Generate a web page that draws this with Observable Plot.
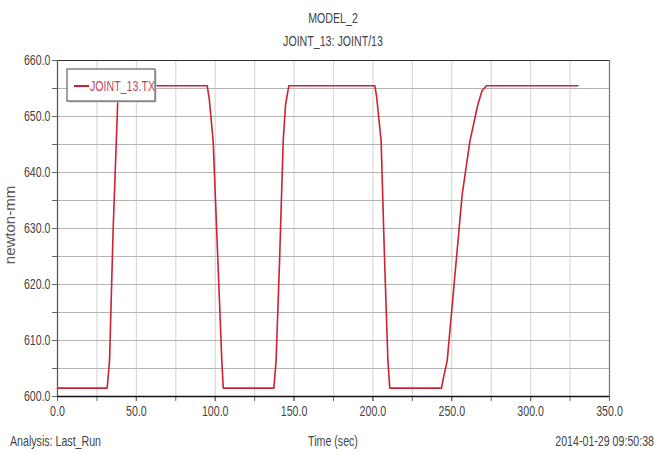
<!DOCTYPE html>
<html>
<head>
<meta charset="utf-8">
<script src="https://cdn.jsdelivr.net/npm/d3@7"></script>
<script src="https://cdn.jsdelivr.net/npm/@observablehq/plot@0.6"></script>
<style>
  html, body { margin: 0; padding: 0; background: #fff; }
  svg text { font-family: "Liberation Sans", Arial, sans-serif; }
</style>
</head>
<body>
<div id="chart"></div>
<script>
// JOINT_13.TX torque history (newton-mm) against simulation time (sec)
const timeSec = [
  0, 31.5, 33.0, 35.3, 38.2, 39.5,
  94.9, 96.2, 98.7, 101.7, 104.2, 105.1,
  137.2, 138.6, 140.8, 143.1, 144.6, 146.7,
  201.2, 202.4, 205.2, 207.4, 209.5, 210.7,
  243.5, 244.6, 247.1, 252.8, 256.6, 261.5, 266.5, 269.2, 272.0, 330.0
];
const torque = [
  601.5, 601.5, 606.4, 630.0, 652.7, 655.5,
  655.5, 653.2, 645.6, 624.2, 606.4, 601.5,
  601.5, 606.4, 624.2, 645.6, 652.1, 655.5,
  655.5, 653.4, 645.6, 624.2, 606.4, 601.5,
  601.5, 603.2, 606.4, 624.2, 636.1, 645.6, 652.1, 654.6, 655.5, 655.5
];

const xTicks = d3.range(0, 351, 50);
const xMinor = d3.range(0, 351, 25);
const yTicks = d3.range(600, 661, 10);
const yMinor = d3.range(600, 661, 5);

const titleLines = ["MODEL_2", "JOINT_13: JOINT/13"];
const seriesName = "JOINT_13.TX";
const yLabel = "newton-mm";
const xLabel = "Time (sec)";
const footLeft = "Analysis: Last_Run";
const footRight = "2014-01-29 09:50:38";

const rows = timeSec.map((t, i) => ({t, v: torque[i]}));
const fmt = d => d.toFixed(1);
const lineColor = "#cc2233";

const W = 655, H = 454;
const M = {top: 60, right: 46, bottom: 58, left: 57};

const chart = Plot.plot({
  width: W,
  height: H,
  marginTop: M.top,
  marginRight: M.right,
  marginBottom: M.bottom,
  marginLeft: M.left,
  style: {fontSize: "14px", color: "#444", background: "#fff", overflow: "visible"},
  x: {domain: [0, 350]},
  y: {domain: [600, 660]},
  marks: [
    Plot.gridX(xMinor, {stroke: "#d9d9d9", strokeOpacity: 1, strokeWidth: 1.2}),
    Plot.gridY(yMinor, {stroke: "#b4b4b4", strokeOpacity: 1, strokeWidth: 1}),
    // minor tick marks without labels
    Plot.axisX(xMinor, {tickSize: 5, tickFormat: () => "", label: null, stroke: "#666"}),
    Plot.axisY(yMinor, {tickSize: 5, tickFormat: () => "", label: null, stroke: "#666"}),
    // labelled ticks
    Plot.axisX(xTicks, {tickSize: 5, tickPadding: 5, tickFormat: fmt, label: null, fill: "#444", stroke: "#666"}),
    Plot.axisY(yTicks, {tickSize: 5, tickPadding: 2, tickFormat: fmt, label: null, fill: "#444", stroke: "#666"}),
    // plot frame
    Plot.ruleY([660], {stroke: "#333", strokeWidth: 1.2}),
    Plot.ruleX([350], {stroke: "#777", strokeWidth: 1.2}),
    Plot.ruleY([600], {stroke: "#111", strokeWidth: 1.4}),
    Plot.ruleX([0], {stroke: "#555", strokeWidth: 1.2}),
    Plot.line(rows, {x: "t", y: "v", stroke: lineColor, strokeWidth: 1.6})
  ]
});

document.getElementById("chart").append(chart);

const svg = d3.select(chart);
const cx = M.left + (W - M.left - M.right) / 2;

// titles
svg.append("text").attr("x", cx).attr("y", 23).attr("text-anchor", "middle")
  .attr("fill", "#444").text(titleLines[0]);
svg.append("text").attr("x", cx).attr("y", 46).attr("text-anchor", "middle")
  .attr("fill", "#444").text(titleLines[1]);

// footer line
svg.append("text").attr("x", cx).attr("y", 446).attr("text-anchor", "middle")
  .attr("fill", "#444").text(xLabel);
svg.append("text").attr("x", 10).attr("y", 446).attr("text-anchor", "start")
  .attr("fill", "#444").text(footLeft);
svg.append("text").attr("x", 654).attr("y", 446).attr("text-anchor", "end")
  .attr("fill", "#444").text(footRight);

// legend box
const lg = svg.append("g").attr("transform", "translate(67,69)");
lg.append("rect").attr("x", 1.5).attr("y", 1.5).attr("width", 88).attr("height", 32)
  .attr("fill", "#ccc");
lg.append("rect").attr("x", 0).attr("y", 0).attr("width", 88).attr("height", 32)
  .attr("fill", "#fff").attr("stroke", "#444").attr("stroke-width", 1);
lg.append("line").attr("x1", 7).attr("x2", 22).attr("y1", 17).attr("y2", 17)
  .attr("stroke", lineColor).attr("stroke-width", 2);
lg.append("text").attr("x", 23).attr("y", 17).attr("dy", "0.35em")
  .attr("text-anchor", "start").attr("fill", "#c04a5a").text(seriesName);

// narrow lettering: squeeze every label horizontally about its anchor point
const squeeze = 0.76;
svg.selectAll("text").each(function () {
  const x = +(this.getAttribute("x") || 0);
  const prev = this.getAttribute("transform") || "";
  this.setAttribute("x", 0);
  this.setAttribute("transform", `${prev} translate(${x},0) scale(${squeeze},1)`);
});

// rotated y-axis title, normal width
svg.append("text")
  .attr("transform", `translate(15,${M.top + (H - M.top - M.bottom) / 2 - 3}) rotate(-90)`)
  .attr("text-anchor", "middle")
  .attr("font-size", 15).attr("fill", "#555").text(yLabel);
</script>
</body>
</html>
